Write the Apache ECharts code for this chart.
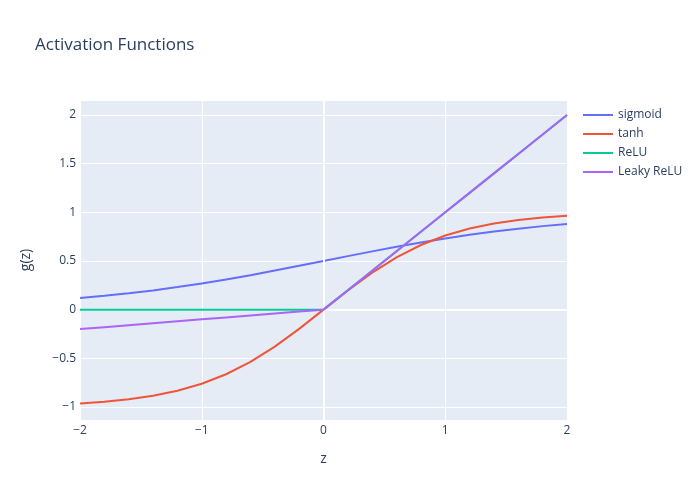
<!DOCTYPE html>
<html>
<head>
<meta charset="utf-8">
<script src="https://cdn.jsdelivr.net/npm/echarts@6/dist/echarts.min.js"></script>
<style>html,body{margin:0;padding:0;background:#fff}#c{width:700px;height:500px}</style>
</head>
<body>
<div id="c"></div>
<script>
const z = [-2.0,-1.8,-1.6,-1.4,-1.2,-1.0,-0.8,-0.6,-0.4,-0.2,0.0,0.2,0.4,0.6,0.8,1.0,1.2,1.4,1.6,1.8,2.0];
const sigmoid = [0.1192,0.1419,0.1680,0.1978,0.2315,0.2689,0.3100,0.3543,0.4013,0.4502,0.5,0.5498,0.5987,0.6457,0.6900,0.7311,0.7685,0.8022,0.8320,0.8581,0.8808];
const tanh = [-0.9640,-0.9468,-0.9217,-0.8854,-0.8337,-0.7616,-0.6640,-0.5370,-0.3799,-0.1974,0.0,0.1974,0.3799,0.5370,0.6640,0.7616,0.8337,0.8854,0.9217,0.9468,0.9640];
const relu = [0,0,0,0,0,0,0,0,0,0,0,0.2,0.4,0.6,0.8,1.0,1.2,1.4,1.6,1.8,2.0];
const leakyRelu = [-0.20,-0.18,-0.16,-0.14,-0.12,-0.10,-0.08,-0.06,-0.04,-0.02,0.0,0.2,0.4,0.6,0.8,1.0,1.2,1.4,1.6,1.8,2.0];
const seriesNames = ['sigmoid','tanh','ReLU','Leaky ReLU'];
const colors = ['#636efa','#EF553B','#00cc96','#ab63fa'];
const values = [sigmoid, tanh, relu, leakyRelu];

const fmt = v => String(v).replace('-', '\u2212');
const font = '"Open Sans", verdana, arial, sans-serif';
const txt = '#2a3f5f';

const chart = echarts.init(document.getElementById('c'), null, {renderer:'canvas'});
const series = values.map((vals, i) => ({
  name: seriesNames[i], type: 'line', data: z.map((x, k) => [x, vals[k]]),
  showSymbol: false, symbol: 'none', lineStyle: {width: 2, color: colors[i]},
  itemStyle: {color: colors[i]}, z: 3 + i, animation: false
}));
series.unshift({
  name: 'zero', type: 'line', data: [], z: 1, silent: true, animation: false,
  markLine: {silent: true, symbol: 'none', animation: false, label: {show: false},
    lineStyle: {color: '#ffffff', width: 2, type: 'solid'},
    data: [{yAxis: 0}, {xAxis: 0}]}
});
chart.setOption({
  backgroundColor: '#ffffff',
  animation: false,
  textStyle: {fontFamily: font},
  title: {text: 'Activation Functions', left: 35, top: 37, padding: 0,
    textStyle: {fontFamily: font, fontSize: 17, fontWeight: 'normal', color: txt}},
  legend: {data: seriesNames, orient: 'vertical', left: 583, top: 109, padding: 0, icon: 'rect',
    itemWidth: 30, itemHeight: 2, itemGap: 7,
    textStyle: {fontFamily: font, fontSize: 12, color: txt}},
  grid: {left: 80, right: 133, top: 100, bottom: 80, show: true, backgroundColor: '#E5ECF6', borderWidth: 0},
  xAxis: {type: 'value', min: -2, max: 2, interval: 1, name: 'z', nameLocation: 'middle', nameGap: 32,
    nameTextStyle: {fontFamily: font, fontSize: 14, color: txt},
    axisLine: {show: false}, axisTick: {show: false},
    axisLabel: {formatter: fmt, margin: 5, fontFamily: font, fontSize: 12, color: txt},
    splitLine: {show: true, lineStyle: {color: '#ffffff', width: 1}}},
  yAxis: {type: 'value', min: -1.134, max: 2.154, minInterval: 0.5, maxInterval: 0.5,
    name: 'g(z)', nameLocation: 'middle', nameGap: 47,
    nameTextStyle: {fontFamily: font, fontSize: 14, color: txt},
    axisLine: {show: false}, axisTick: {show: false},
    axisLabel: {formatter: fmt, margin: 4, showMinLabel: false, showMaxLabel: false,
      fontFamily: font, fontSize: 12, color: txt},
    splitLine: {show: true, lineStyle: {color: '#ffffff', width: 1}}},
  series: series
});
</script>
</body>
</html>
